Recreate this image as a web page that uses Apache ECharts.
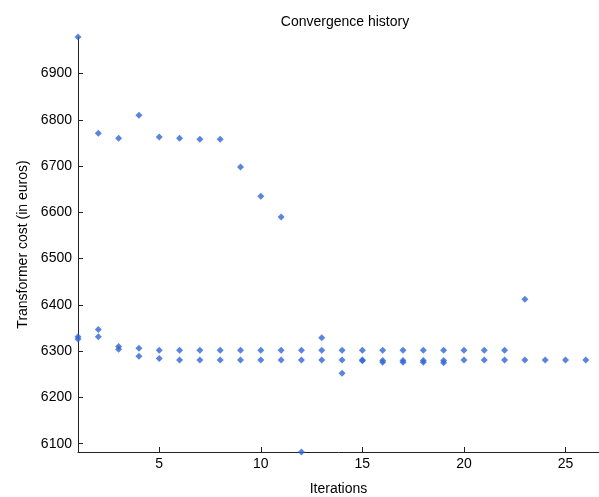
<!DOCTYPE html>
<html>
<head>
<meta charset="utf-8">
<script src="https://cdn.jsdelivr.net/npm/echarts@6/dist/echarts.min.js"></script>
<style>
  html, body { margin: 0; padding: 0; background: #fff; }
  #chart { width: 599px; height: 497px; }
</style>
</head>
<body>
<div id="chart"></div>
<script>
// iteration numbers 1..26
const iterations = [1, 2, 3, 4, 5, 6, 7, 8, 9, 10, 11, 12, 13, 14, 15, 16, 17, 18, 19, 20, 21, 22, 23, 24, 25, 26]
// cost values, one row per "band" (null = no point)
const highCost = [6979, 6771, 6760, 6810, 6763, 6760, 6758, 6758, 6698, 6635, 6590, 6082, 6329, 6252, null, null, null, null, null, null, null, null, 6412, null, null, null]
const midCost = [6331, 6347, 6310, 6306, 6302, 6302, 6302, 6302, 6302, 6302, 6302, 6302, 6302, 6302, 6302, 6302, 6302, 6302, 6302, 6302, 6302, 6302, null, null, null, null]
const lowCost = [6326, 6331, 6304, 6289, 6284, 6281, 6281, 6281, 6281, 6281, 6281, 6281, 6281, 6281, 6281, 6280, 6280, 6280, 6280, 6281, 6281, 6281, 6281, 6281, 6281, 6281]
const extraCost = [null, null, null, null, null, null, null, null, null, null, null, null, null, null, 6279, 6276, 6276, 6276, 6275, null, null, null, null, null, null, null]

const xTicks = [5, 10, 15, 20, 25]
const yTicks = [6100, 6200, 6300, 6400, 6500, 6600, 6700, 6800, 6900]

const points = []
;[highCost, midCost, lowCost, extraCost].forEach(row => {
  row.forEach((v, i) => {
    if (v !== null) points.push([iterations[i], v])
  })
})

const chart = echarts.init(document.getElementById('chart'))
const font = '"Liberation Sans", Arial, sans-serif'

chart.setOption({
  animation: false,
  textStyle: { fontFamily: font },
  title: {
    text: 'Convergence history',
    left: 340,
    textAlign: 'center',
    top: 10,
    textStyle: { fontSize: 14, fontWeight: 'normal', color: '#000', fontFamily: font }
  },
  grid: { left: 78, right: 0, top: 37, bottom: 45, outerBoundsMode: 'none' },
  xAxis: {
    type: 'value',
    min: 1,
    max: 26.65,
    name: 'Iterations',
    nameLocation: 'middle',
    nameGap: 30,
    nameTextStyle: { fontSize: 14, color: '#000' },
    axisLine: { onZero: false, lineStyle: { color: '#222', width: 1 } },
    axisTick: { inside: true, length: 5, customValues: xTicks, lineStyle: { color: '#222' } },
    axisLabel: { customValues: xTicks, fontSize: 14, color: '#000', margin: 5 },
    splitLine: { show: false }
  },
  yAxis: {
    type: 'value',
    min: 6082,
    max: 6979,
    name: 'Transformer cost (in euros)',
    nameLocation: 'middle',
    nameGap: 47,
    nameRotate: 90,
    nameTextStyle: { fontSize: 14, color: '#000' },
    axisLine: { show: true, onZero: false, lineStyle: { color: '#222', width: 1 } },
    axisTick: { show: true, inside: true, length: 5, customValues: yTicks, lineStyle: { color: '#222' } },
    axisLabel: { customValues: yTicks, fontSize: 14, color: '#000', margin: 6, formatter: v => String(v) },
    splitLine: { show: false }
  },
  series: [
    {
      type: 'scatter',
      data: points,
      symbol: 'diamond',
      symbolSize: 7,
      itemStyle: { color: '#3166d6' },
      clip: false
    }
  ]
})
</script>
</body>
</html>
